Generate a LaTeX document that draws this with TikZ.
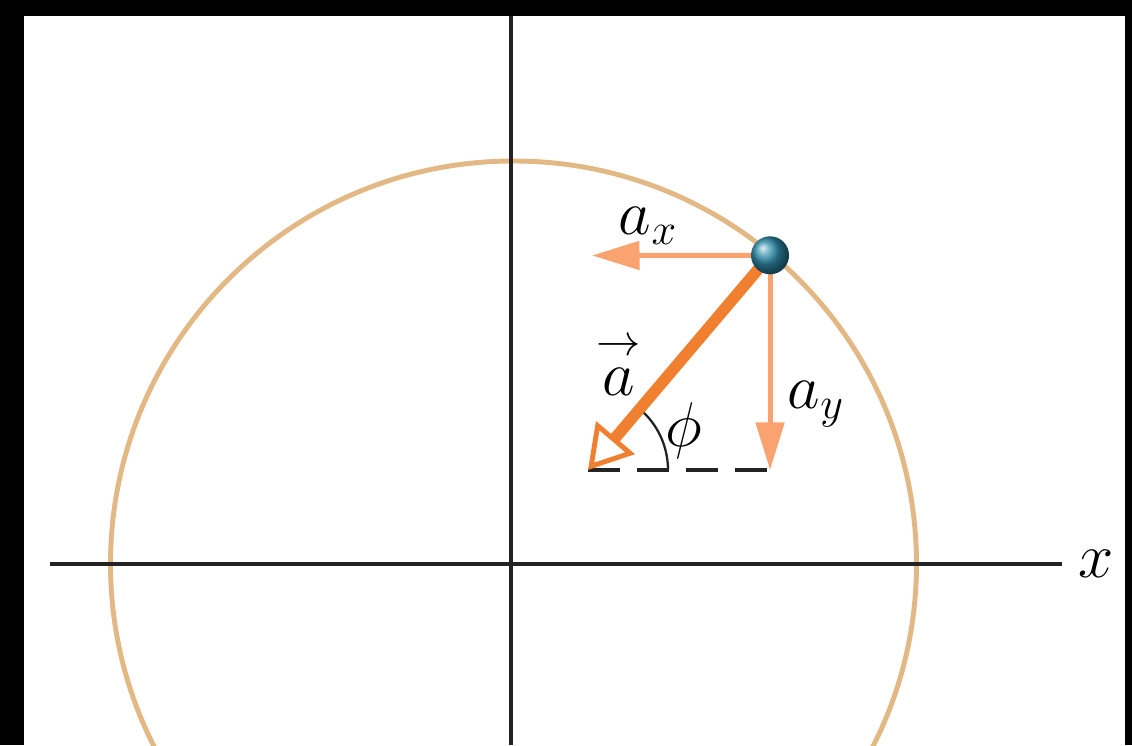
\documentclass[tikz,border=0pt]{standalone}
\usepackage{fix-cm}
\usepackage{amsmath, amssymb}
\usepackage{xcolor}
\usepackage{tikz}
\usetikzlibrary{arrows.meta, positioning, calc}
\definecolor{CircleTan}{RGB}{226, 184, 132}
\definecolor{AccOrange}{RGB}{240, 128, 48}
\definecolor{CompOrange}{RGB}{250, 162, 112}
\definecolor{AxisGray}{RGB}{35, 35, 35}
\definecolor{BallTeal}{RGB}{45, 140, 170}

\begin{document}
\begin{tikzpicture}
  \tikzset{
    axisline/.style={draw=AxisGray, line width=2.1pt},
    compvec/.style={draw=CompOrange, line width=2.8pt,
      -{Triangle[length=0.95cm, width=0.56cm]}},
    labeltext/.style={inner sep=0pt, font=\fontsize{36}{38}\selectfont}
  }
  % frame
  \useasboundingbox (-10.22,-3.62) rectangle (12.42,11.28);
  \fill[black] (-10.22,-3.62) rectangle (12.42,11.28);
  \fill[white] (-9.74,-3.62) rectangle (12.28,10.96);

  % path of the particle
  \begin{scope}
    \clip (-9.74,-3.62) rectangle (12.28,10.96);
    \draw[CircleTan, line width=2.8pt] (0.05,0) circle (8.06);
  \end{scope}

  % axes
  \coordinate (O) at (0,0);
  \coordinate (ytop) at (0,10.96);
  \coordinate (ybot) at (0,-3.62);
  \coordinate (xleft) at (-9.22,0);
  \coordinate (xright) at (11.02,0);
  \draw[axisline] (ybot) -- (ytop);
  \draw[axisline] (xleft) -- (xright);
  \node[labeltext, font=\fontsize{36}{38}\selectfont, right=0.32cm of xright] (xlab) {$x$};

  % particle and acceleration
  \coordinate (p) at (50:8.06);
  \coordinate (tip) at (1.54,1.88);
  \coordinate (axend) at (1.62,6.17);
  \coordinate (ayend) at (tip -| p);

  \draw[AxisGray, line width=2pt, dash pattern=on 0.64cm off 0.34cm] (tip) -- (ayend);
  \draw[AxisGray, line width=1.3pt] ($(tip)+(1.6,0)$) arc[start angle=0, end angle=50, radius=1.6];

  \draw[compvec] (p) -- (axend);
  \draw[compvec] (p) -- (ayend);
  \draw[AccOrange, line width=6.5pt,
    -{Triangle[open, length=0.85cm, width=1.0cm, line width=2.8pt, fill=white]}]
    (p) -- (tip);

  \node[circle, minimum size=0.76cm, inner sep=0pt, shading=ball,
    ball color=BallTeal] (ball) at (p) {};

  % labels
  \node[labeltext] (axlab) at (2.74,6.76) {$a_x$};
  \node[labeltext] (ayl) at (6.1,3.2) {$a_y$};
  \node[labeltext] (alab) at (2.16,4.0) {$\overset{\rightarrow}{a}$};
  \node[labeltext] (philab) at (3.46,2.66) {$\phi$};
\end{tikzpicture}
\end{document}
